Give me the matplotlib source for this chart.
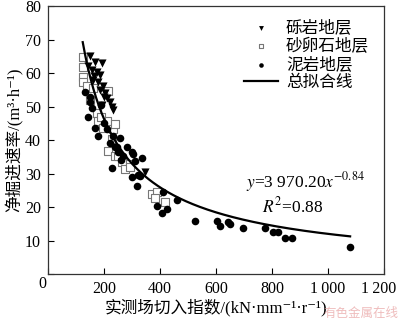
import matplotlib.pyplot as plt
import matplotlib.transforms as mtransforms
import numpy as np

plt.rcParams['font.family'] = ['Liberation Serif', 'Noto Sans CJK SC', 'DejaVu Serif']
plt.rcParams['mathtext.fontset'] = 'stix'

# 砾岩地层 (triangles)
gravel_x = [150, 168, 193, 157, 175, 186, 161, 179, 196, 186, 204, 211, 221, 229, 232, 193, 143, 165, 200, 346]
gravel_y = [65, 63.4, 63.1, 61, 60.4, 59.5, 58, 57.2, 56, 55.1, 54.2, 52.7, 51.5, 50, 49.1, 50.6, 62, 59, 53, 30.4]

# 砂卵石地层 (open squares)
pebble_x = [125, 125, 125, 125, 139, 214, 161, 175, 179, 211, 196, 232, 229, 214, 239, 239, 250, 264, 293, 275, 293,
            371, 389, 382, 418, 150, 190]
pebble_y = [64.9, 61.8, 58.8, 57.3, 56, 54.8, 55.6, 48.2, 45.6, 45.6, 43.7, 43.2, 40.2, 36.7, 35.2, 44.7, 35.2, 33.4, 32.8,
            31.3, 31.9, 23.9, 24.5, 22.7, 21.5, 52, 47]

# 泥岩地层 (filled circles)
mud_x = [132, 150, 157, 143, 168, 179, 211, 232, 257, 246, 239, 282, 300, 336, 250, 268, 304, 311, 229, 329,
         300, 318, 321, 411, 461, 389, 425, 407, 525, 603, 614, 643, 696, 650, 775, 804, 821, 846, 871, 1079,
         150, 190, 200, 222, 260]
mud_y = [54.4, 53, 49.6, 47, 43.7, 41.1, 43.2, 41.2, 40.5, 37.9, 37.8, 37.9, 36.3, 34.6, 36.3, 35.2, 35.8, 33.7, 31.6, 29.3,
         29, 26.4, 29.5, 24.5, 22.1, 20.2, 19.5, 18.2, 15.9, 15.9, 14.4, 15.6, 13.6, 15, 13.8, 12.6, 12.6, 10.9, 10.9, 8.2,
         51.5, 50.5, 45, 39, 34]

fit_a = 3970.20
fit_b = -0.84
fit_x = np.linspace(124, 1079, 200)
fit_y = fit_a * fit_x ** fit_b

fig = plt.figure(figsize=(4.0, 3.22), dpi=100)
ax = fig.add_axes([0.12, 0.149, 0.84, 0.832])

ax.scatter(gravel_x, gravel_y, marker='v', s=34, color='black', linewidths=0, label='砾岩地层', zorder=3)
ax.scatter(pebble_x, pebble_y, marker='s', s=26, facecolors='white', edgecolors='#777777', linewidths=0.8,
           label='砂卵石地层', zorder=2)
ax.scatter(mud_x, mud_y, marker='o', s=30, color='black', linewidths=0, label='泥岩地层', zorder=3)
ax.plot(fit_x, fit_y, color='black', lw=1.6, label='总拟合线', zorder=4)

ax.set_xlim(0, 1200)
ax.set_ylim(0, 80)
ax.set_xticks([0, 200, 400, 600, 800, 1000, 1200])
ax.set_xticklabels(['', '200', '400', '600', '800', '1\u2009000', '1\u2009200'])
ax.set_yticks([0, 10, 20, 30, 40, 50, 60, 70, 80])
ax.set_yticklabels(['', '10', '20', '30', '40', '50', '60', '70', '80'])
ax.text(-0.018, -0.036, '0', transform=ax.transAxes, ha='center', va='center', fontsize=11.5)
ax.tick_params(direction='in', length=4, width=0.8, labelsize=11.5, pad=5)
for s in ax.spines.values():
    s.set_linewidth(0.9)
    s.set_color('#333333')

# nudge the last x tick label so it stays inside the figure
last = ax.get_xticklabels()[-1]
last.set_transform(last.get_transform() + mtransforms.ScaledTranslation(-5 / 100, 0, fig.dpi_scale_trans))

ax.set_xlabel('实测场切入指数/(kN·mm⁻¹·r⁻¹)', fontsize=12, labelpad=1)
ax.set_ylabel('净掘进速率/(m³·h⁻¹)', fontsize=12, labelpad=1)

leg = ax.legend(loc='upper right', bbox_to_anchor=(0.99, 0.99), frameon=False, fontsize=12,
                markerscale=0.6, handlelength=2.0, handletextpad=0.5, labelspacing=0.13,
                borderaxespad=0.3)

ax.text(921, 27.5, '$y$=3 970.20$x^{-0.84}$', ha='center', va='center', fontsize=12.5)
ax.text(875, 20.2, '$R^2$=0.88', ha='center', va='center', fontsize=12.5)

fig.text(0.995, 0.005, '有色金属在线', ha='right', va='bottom', fontsize=9, color='#e8a0a0', alpha=0.7)

fig.savefig('out.png', dpi=100)
